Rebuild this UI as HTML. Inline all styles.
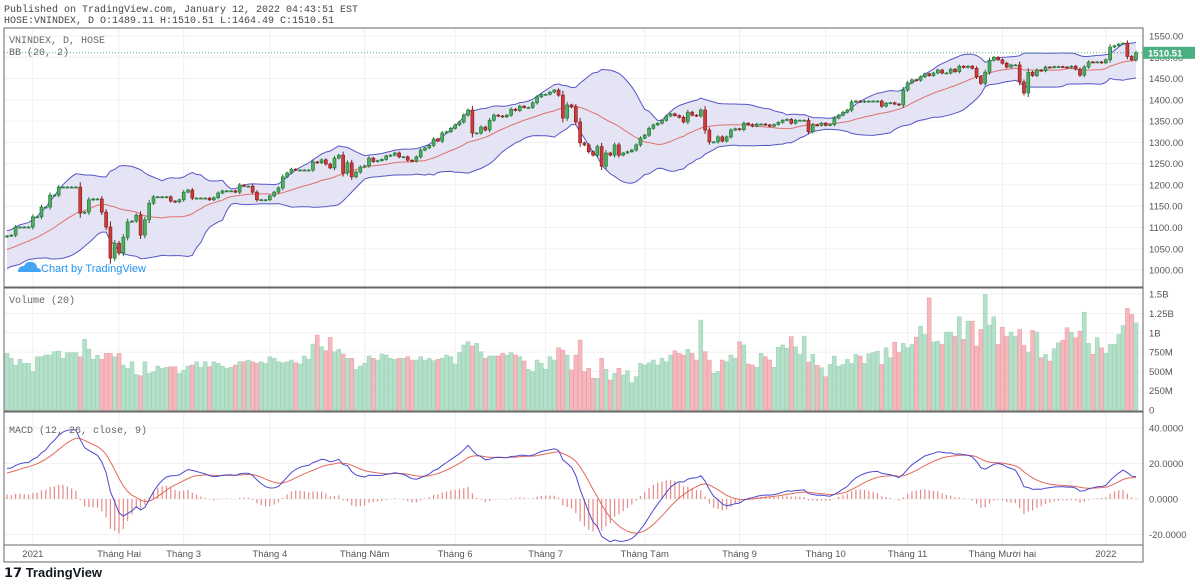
<!DOCTYPE html>
<html><head><meta charset="utf-8"><style>
html,body{margin:0;padding:0;background:#fff;width:1200px;height:584px;overflow:hidden}
svg{display:block}
text{font-family:"Liberation Mono","DejaVu Sans Mono",monospace}
</style></head><body>
<svg id="c" width="1200" height="584" viewBox="0 0 1200 584" xmlns="http://www.w3.org/2000/svg">
<text x="4" y="12" font-size="10" fill="#444">Published on TradingView.com, January 12, 2022 04:43:51 EST</text>
<text x="4" y="23" font-size="10" fill="#444">HOSE:VNINDEX, D O:1489.11 H:1510.51 L:1464.49 C:1510.51</text>
<g id="grid"></g>
<g id="bb"></g>
<g id="candles"></g>
<g id="vol"></g>
<g id="macd"></g>
<g id="axes"></g>
<text x="9" y="43" font-size="10" fill="#666">VNINDEX, D, HOSE</text>
<text x="9" y="55" font-size="10" fill="#666">BB (20, 2)</text>
<text x="9" y="303" font-size="10" fill="#666">Volume (20)</text>
<text x="9" y="433" font-size="10" fill="#666">MACD (12, 26, close, 9)</text>
<g>
<path d="M18 272 q0-6 6-6 q2-5 8-4 q5 1 5 6 q4 0 4 4 z" fill="#2196f3" opacity="0.85"/>
<text x="41" y="272" font-size="11" fill="#2196f3" font-family="Liberation Sans,sans-serif" style="font-family:'Liberation Sans',sans-serif">Chart by TradingView</text>
</g>
<g>
<text x="4" y="577" font-size="13" font-weight="bold" fill="#131722" style="font-family:'Liberation Sans',sans-serif">𝟭𝟳 TradingView</text>
</g>
</svg>
<script>
const warmup=[1005,1010,1017,1020,1015,1025,1030,1040,1038,1045,1050,1055,1048,1060,1065,1070,1068,1075,1072,1078];
const closes=[1080,1082,1101,1101,1101,1101,1125,1125,1148,1148,
1176,1176,1195,1195,1195,1195,1195,1134,1136,1165,
1167,1167,1136,1101,1028,1063,1040,1077,1113,1115,
1129,1082,1118,1157,1172,1172,1172,1172,1162,1160,
1165,1183,1188,1169,1169,1169,1169,1165,1170,1181,
1186,1186,1186,1183,1200,1197,1197,1183,1165,1165,
1165,1174,1183,1193,1219,1228,1237,1235,1235,1235,
1235,1254,1252,1259,1249,1240,1263,1270,1228,1252,
1219,1230,1242,1245,1263,1255,1257,1260,1268,1270,
1275,
1266,1266,1258,1256,1266,1282,1287,1293,1308,1303,
1322,1325,1333,1341,1348,1364,1376,1322,1322,1336,
1329,1352,1364,1362,1360,1364,1378,1375,1385,1382,
1382,1393,1407,1413,1413,1418,1423,1411,1357,1388,
1383,1348,1299,1294,1278,1270,1290,1244,1275,1270,
1294,1270,1275,1278,1282,1294,1310,1317,1333,1341,
1345,1352,1362,1367,1363,1359,1348,1371,1364,1362,
1376,1329,1301,1301,1313,1303,1313,1329,1332,1330,
1345,1342,1338,1343,1343,1341,1338,1342,1347,
1352,1354,1345,1352,1352,1352,1325,1341,1340,1345,
1340,1342,1357,1364,1371,1376,1395,1397,1395,1397,
1397,1397,1397,1385,1392,1393,1390,1388,1423,1440,
1447,1446,1454,1461,1457,1463,1470,1463,1463,1472,
1466,1479,1476,1479,1474,1454,1439,1465,1493,1500,
1494,1486,1477,1482,1482,1442,1416,1465,1457,1470,
1468,1477,1476,1478,1478,1477,1476,1479,1472,1458,
1477,1489,1488,1489,1487,1494,1524,1527,1531,1533,
1502,1494,1510.51];
const volumes=[733,669,582,656,604,604,496,690,690,712,712,755,763,669,742,742,742,690,915,789,
656,707,656,733,733,690,733,582,539,625,461,444,625,474,496,569,539,552,561,561,
474,517,569,582,625,552,625,561,625,604,569,539,552,582,625,625,647,625,604,625,
604,690,669,625,612,625,647,612,595,699,656,
854,971,820,768,940,755,785,725,669,669,526,569,604,699,669,647,725,712,669,656,
669,669,691,647,647,691,647,669,639,656,
669,712,691,596,742,842,885,829,863,755,
669,699,699,699,734,712,742,712,691,635,
527,496,647,604,527,691,647,807,777,712,
518,712,906,496,540,410,410,669,527,388,
475,540,453,509,354,432,604,583,613,647,
583,669,626,712,768,734,712,786,734,647,
1165,755,647,475,496,647,626,712,669,885,
842,596,583,552,734,691,647,552,812,842,
799,950,
819,720,957,621,720,578,547,431,590,698,569,590,655,603,720,698,603,728,741,763,
590,806,677,879,750,862,806,849,944,1086,978,1452,880,892,849,1009,1009,957,1207,914,
1151,1151,828,1043,1496,1100,1207,849,1073,957,1009,957,1043,836,750,1030,1009,677,720,634,
793,871,905,1065,1009,935,1022,1267,862,720,935,806,733,849,849,978,1095,1315,1237,1129];
const priceTicks=[1000,1050,1100,1150,1200,1250,1300,1350,1400,1450,1500,1550];
const volTicks=[0,250,500,750,1000,1250,1500];
const volTickLabels=["0","250M","500M","750M","1B","1.25B","1.5B"];
const macdTicks=[40,20,0,-20];
const monthIdx=[6,26,41,61,83,104,125,148,170,190,209,231,255];
const monthLabels=["2021","Tháng Hai","Tháng 3","Tháng 4","Tháng Năm","Tháng 6","Tháng 7","Tháng Tám","Tháng 9","Tháng 10","Tháng 11","Tháng Mười hai","2022"];

const NS="http://www.w3.org/2000/svg";
const N=closes.length;
const X0=7,X1=1136,L=4,R=1143;
const xAt=i=>X0+i*(X1-X0)/(N-1);
const yP=p=>36+(1550-p)*0.4255;
const yV=v=>410-v/250*19.3;
const yM=m=>499-m*1.775;
function mk(parent,tag,attrs){const e=document.createElementNS(NS,tag);for(const k in attrs)e.setAttribute(k,attrs[k]);document.getElementById(parent).appendChild(e);return e;}

// grid
priceTicks.forEach(p=>{const e=mk('grid','line',{x1:L,x2:R,y1:yP(p),y2:yP(p),stroke:'#f0f0f0'});

});
volTicks.slice(1).forEach(v=>{const e=mk('grid','line',{x1:L,x2:R,y1:yV(v),y2:yV(v),stroke:'#f0f0f0'});

});
macdTicks.forEach(m=>{const e=mk('grid','line',{x1:L,x2:R,y1:yM(m),y2:yM(m),stroke:'#f0f0f0'});

});
monthIdx.forEach(i=>{const e=mk('grid','line',{x1:xAt(i),x2:xAt(i),y1:28,y2:545,stroke:'#f0f0f0'});

});

// BB
const all=warmup.concat(closes),W=warmup.length;
const mid=[],up=[],lo=[];
for(let i=0;i<N;i++){const s=all.slice(W+i-19,W+i+1);const m=s.reduce((a,b)=>a+b,0)/20;const sd=Math.sqrt(s.reduce((a,b)=>a+(b-m)*(b-m),0)/20);mid.push(m);up.push(m+2*sd);lo.push(m-2*sd);}
const pts=a=>a.map((v,i)=>xAt(i).toFixed(1)+','+yP(v).toFixed(1));
const bx0=L, bx1=R-6;
let fillD='M'+pts(up).join(' L')+' L'+pts(lo).reverse().join(' L')+'Z';
let e=mk('bb','path',{d:fillD,fill:'#e4e4f4',stroke:'none'});


e=mk('bb','polyline',{points:pts(up).join(' '),fill:'none',stroke:'#5656c8','stroke-width':1});


e=mk('bb','polyline',{points:pts(lo).join(' '),fill:'none',stroke:'#5656c8','stroke-width':1});


e=mk('bb','polyline',{points:pts(mid).join(' '),fill:'none',stroke:'#e07070','stroke-width':1});



// last price line
e=mk('bb','line',{x1:L,x2:R,y1:yP(closes[N-1]),y2:yP(closes[N-1]),stroke:'#4caf80','stroke-dasharray':'1,2'});



// candles
for(let i=0;i<N;i++){
 const o=i?closes[i-1]:1078,c=closes[i],upc=c>=o;
 const x=xAt(i),d=Math.abs(c-o);
 const hi=Math.max(o,c)+2+d*0.15,lw=Math.min(o,c)-2-d*0.15;
 const col=upc?'#4caf60':'#d23a3a',bd=upc?'#1e6e33':'#7a1818';
 const w=mk('candles','line',{x1:x,x2:x,y1:yP(hi),y2:yP(lw),stroke:bd,'stroke-width':1});
 
 
 const y1=yP(Math.max(o,c)),y2=yP(Math.min(o,c));
 const b=mk('candles','rect',{x:x-1.5,y:y1,width:3,height:Math.max(1,y2-y1),fill:col,stroke:bd,'stroke-width':0.6});
 
 
 const vv=volumes[i]||0;
 const vb=mk('vol','rect',{x:x-2,y:yV(vv),width:4,height:410-yV(vv),fill:upc?'#b3e0c8':'#f6b7bd',stroke:upc?'#9ccfb4':'#e79aa2','stroke-width':0.5});
 
 
}

// MACD
function ema(a,n){const k=2/(n+1);const r=[a[0]];for(let i=1;i<a.length;i++)r.push(a[i]*k+r[i-1]*(1-k));return r;}
const e12=ema(all,12),e26=ema(all,26);
const macdAll=e12.map((v,i)=>v-e26[i]);
const sigAll=ema(macdAll,9);
const macdV=macdAll.slice(W),sigV=sigAll.slice(W);
for(let i=0;i<N;i++){const h=macdV[i]-sigV[i];
 const hb=mk('macd','line',{x1:xAt(i),x2:xAt(i),y1:yM(0),y2:yM(h),stroke:'#e58a8a','stroke-width':1.2});
 
 }
const mp=a=>a.map((v,i)=>xAt(i).toFixed(1)+','+yM(v).toFixed(1)).join(' ');
e=mk('macd','polyline',{points:mp(sigV),fill:'none',stroke:'#e06a5a','stroke-width':1});


e=mk('macd','polyline',{points:mp(macdV),fill:'none',stroke:'#4a4ad0','stroke-width':1});



// frames & axes
[[L,28,R,287],[L,288,R,411],[L,412,R,545]].forEach((r,k)=>{const f=mk('axes','rect',{x:r[0],y:r[1],width:r[2]-r[0],height:r[3]-r[1],fill:'none',stroke:'#666','stroke-width':1});

});
e=mk('axes','rect',{x:L,y:545,width:R-L,height:17,fill:'none',stroke:'#666'});


e=mk('axes','line',{x1:R,x2:R,y1:28,y2:562,stroke:'#666'});


function lab(x,y,t,name,anchor){const tt=mk('axes','text',{x:x,y:y,'font-size':9.5,fill:'#555','text-anchor':anchor||'start',style:"font-family:'Liberation Sans',sans-serif"});tt.textContent=t;

}
priceTicks.forEach(p=>lab(1149,yP(p)+3.5,p.toFixed(2),'price-tick-label'));
volTicks.forEach((v,k)=>lab(1149,yV(v)+3.5,volTickLabels[k],'volume-tick-label'));
macdTicks.forEach(m=>lab(1149,yM(m)+3.5,m.toFixed(4),'macd-tick-label'));
monthIdx.forEach((i,k)=>lab(xAt(i),557,monthLabels[k],'time-tick-label','middle'));
// last price tag
const yl=yP(closes[N-1]);
e=mk('axes','rect',{x:1143,y:yl-6,width:52,height:12,fill:'#4caf80'});


const lt=mk('axes','text',{x:1148,y:yl+3.5,'font-size':9.5,fill:'#fff','font-weight':'bold',style:"font-family:'Liberation Sans',sans-serif"});
lt.textContent=closes[N-1].toFixed(2);


</script>
</body></html>
